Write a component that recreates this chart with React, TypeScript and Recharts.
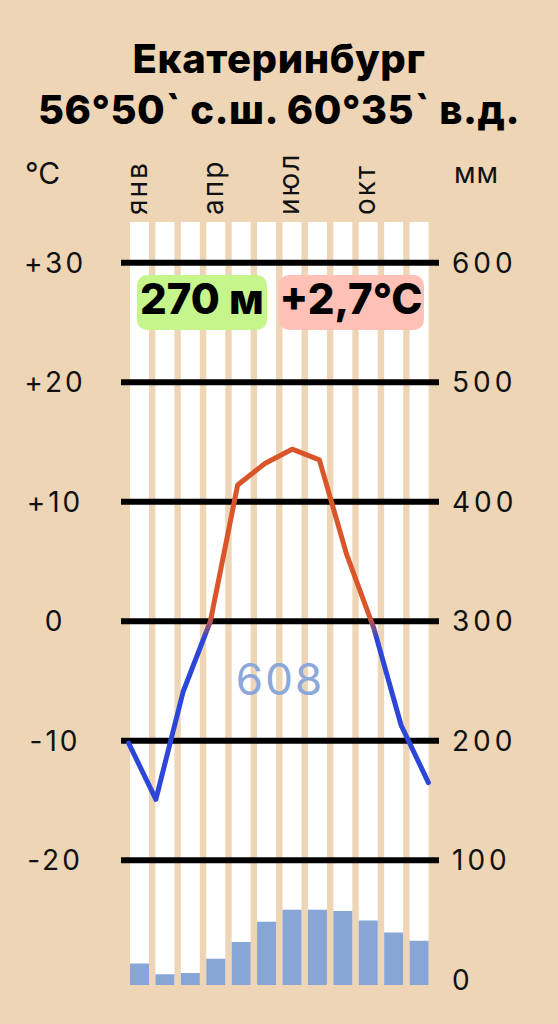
import React from "react";
import { ComposedChart, Bar, Line, XAxis, YAxis, ReferenceLine } from "recharts";

const months = ["янв", "фев", "мар", "апр", "май", "июн", "июл", "авг", "сен", "окт", "ноя", "дек"];
const monthTicks = ["янв", "апр", "июл", "окт"];
const temperature = [-10.2, -14.9, -5.9, 0.0, 11.4, 13.2, 14.4, 13.5, 5.6, -0.6, -8.7, -13.5];
const precipitation = [18, 9, 10, 22, 36, 53, 63, 63, 62, 54, 44, 37];
const tempTicks = [-20, -10, 0, 10, 20, 30];
const mmTicks = [0, 100, 200, 300, 400, 500, 600];

const title = "Екатеринбург";
const coords = "56°50` с.ш. 60°35` в.д.";
const elevation = "270 м";
const meanTemp = "+2,7°C";
const annualPrecip = "608";

const BG = "#EDD5B6";
const FONT = "Inter, 'Noto Sans', sans-serif";

// temperature axis, chosen so that 10 °C = 100 mm on the right
const tempDomain = [-30.44, 33.41];
const mmLabelDomain = [(tempDomain[0] + 30) * 10, (tempDomain[1] + 30) * 10];
const barDomain = [0, 638.5];

const data = months.map((m, i) => ({
  month: m,
  temp: temperature[i],
  precip: precipitation[i],
}));

const tMax = Math.max(...temperature);
const tMin = Math.min(...temperature);
const off = (t: number) => `${((tMax - t) / (tMax - tMin)) * 100}%`;

const fmtTemp = (v: number) => (v > 0 ? `+${v}` : `${v}`);

const LeftTick = ({ y, payload }: any) => (
  <text x={55} y={y} dy="0.35em" textAnchor="middle" fontSize={28} letterSpacing={3} fill="#111" fontFamily={FONT}>
    {fmtTemp(payload.value)}
  </text>
);

const RightTick = ({ x, y, payload }: any) => (
  <text x={x} y={y} dy="0.35em" textAnchor="start" fontSize={28} letterSpacing={4} fill="#111" fontFamily={FONT}>
    {payload.value}
  </text>
);

const MonthTick = ({ x, y, payload }: any) => (
  <text
    x={x}
    y={y}
    dy="0.25em"
    transform={`rotate(-90 ${x} ${y})`}
    textAnchor="start"
    fontSize={28}
    letterSpacing={2}
    fill="#111"
    fontFamily={FONT}
  >
    {payload.value}
  </text>
);

export default function App() {
  return (
    <div style={{ position: "absolute", left: 0, top: 0, width: 558, height: 1024, background: BG }}>
      <ComposedChart width={558} height={1024} data={data} margin={{ top: 0, right: 0, bottom: 39, left: 0 }}>
        <defs>
          <linearGradient id="tempGrad" x1="0" y1="0" x2="0" y2="1">
            <stop offset={off(0.4)} stopColor="#D9562B" />
            <stop offset={off(-1.4)} stopColor="#2C47D8" />
          </linearGradient>
        </defs>
        <XAxis
          xAxisId="b"
          dataKey="month"
          orientation="top"
          height={222}
          ticks={monthTicks}
          interval={0}
          axisLine={false}
          tickLine={false}
          tickSize={0}
          tickMargin={7}
          padding={{ left: 6, right: 7 }}
          tick={<MonthTick />}
        />
        <XAxis xAxisId="l" dataKey="month" scale="band" hide padding={{ left: -6, right: -3 }} />
        <YAxis
          yAxisId="t"
          type="number"
          domain={tempDomain}
          allowDataOverflow
          ticks={tempTicks}
          width={121}
          axisLine={false}
          tickLine={false}
          tickSize={0}
          tick={<LeftTick />}
        />
        <YAxis
          yAxisId="r"
          orientation="right"
          type="number"
          domain={mmLabelDomain}
          allowDataOverflow
          ticks={mmTicks}
          width={119}
          axisLine={false}
          tickLine={false}
          tickSize={0}
          tickMargin={13}
          tick={<RightTick />}
        />
        <YAxis yAxisId="m" type="number" domain={barDomain} allowDataOverflow hide />
        <Bar
          xAxisId="b"
          yAxisId="m"
          dataKey="precip"
          fill="#87A5D5"
          barSize={19}
          background={{ fill: "#FFFFFF" }}
          isAnimationActive={false}
        />
        {tempTicks.map((t) => (
          <ReferenceLine key={t} xAxisId="b" yAxisId="t" y={t} stroke="#000" strokeWidth={6} />
        ))}
        <Line
          xAxisId="l"
          yAxisId="t"
          dataKey="temp"
          type="linear"
          stroke="url(#tempGrad)"
          strokeWidth={5}
          strokeLinejoin="round"
          strokeLinecap="round"
          dot={false}
          activeDot={false}
          isAnimationActive={false}
        />
      </ComposedChart>
      <svg
        width={558}
        height={1024}
        style={{ position: "absolute", left: 0, top: 0, pointerEvents: "none" }}
        fontFamily={FONT}
      >
        <text x={279} y={73} textAnchor="middle" fontSize={40} letterSpacing={0.6} fontWeight={800} fill="#000">
          {title}
        </text>
        <text x={279} y={124} textAnchor="middle" fontSize={40} letterSpacing={0.5} fontWeight={800} fill="#000">
          {coords}
        </text>
        <text x={25} y={184} fontSize={30} fill="#111">
          °C
        </text>
        <text x={454} y={183} fontSize={28} letterSpacing={1} fill="#111">
          мм
        </text>
        <rect x={137} y={275} width={130} height={55} rx={10} fill="#C6F58C" />
        <text x={202} y={314} textAnchor="middle" fontSize={42} fontWeight={800} fill="#000">
          {elevation}
        </text>
        <rect x={279} y={275} width={145} height={55} rx={10} fill="#FFC1B5" />
        <text x={351} y={314} textAnchor="middle" fontSize={42} fontWeight={800} fill="#000">
          {meanTemp}
        </text>
        <text x={280} y={695} textAnchor="middle" fontSize={44} letterSpacing={2} fill="#8CA8DA">
          {annualPrecip}
        </text>
      </svg>
    </div>
  );
}
